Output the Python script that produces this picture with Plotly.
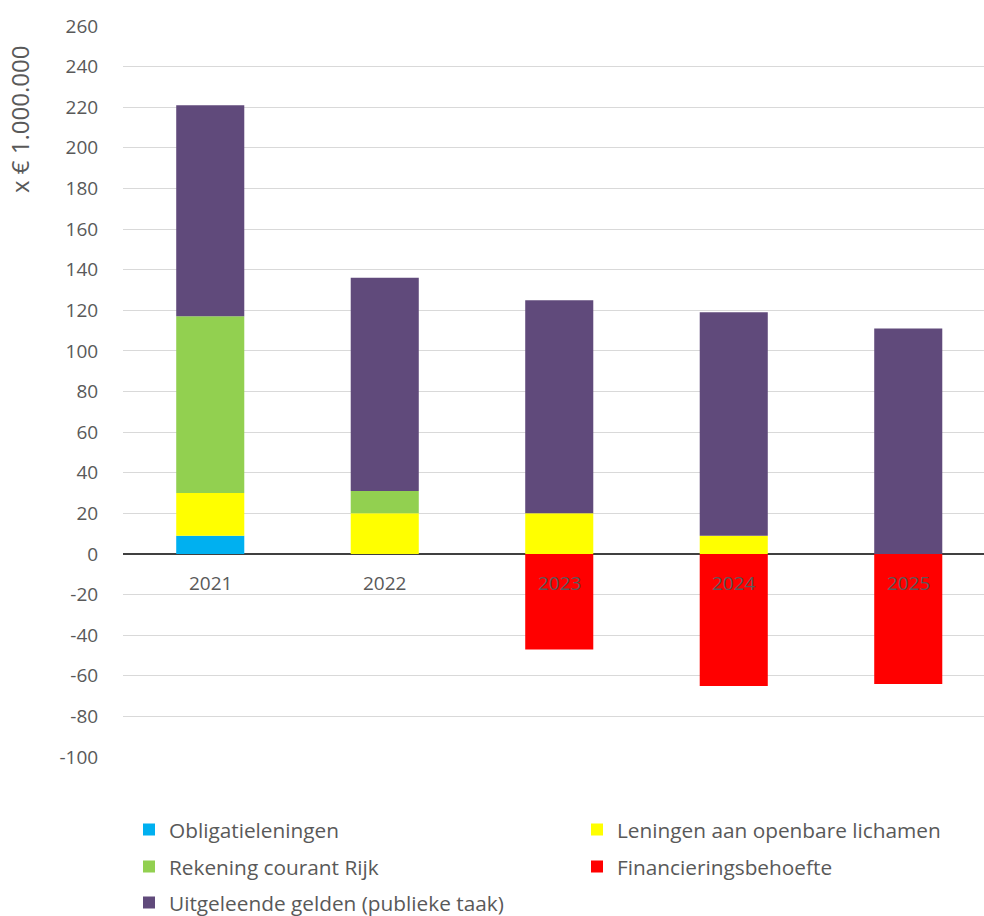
import plotly.graph_objects as go

years = ["2021", "2022", "2023", "2024", "2025"]
obligatieleningen = [9, 0, 0, 0, 0]
leningen_openbare = [21, 20, 20, 9, 0]
rekening_courant = [87, 11, 0, 0, 0]
financieringsbehoefte = [0, 0, -47, -65, -64]
uitgeleende_gelden = [104, 105, 105, 110, 111]
y_ticks = [-100, -80, -60, -40, -20, 0, 20, 40, 60, 80, 100, 120, 140, 160, 180, 200, 220, 240, 260]
y_ticktext = ["-100", "-80", "-60", "-40", "-20", "0", "20", "40", "60", "80", "100", "120",
              "140", "160", "180", "200", "220", "240", "260"]

series = [
    ("Obligatieleningen", obligatieleningen, "#00B0F0"),
    ("Leningen aan openbare lichamen", leningen_openbare, "#FFFF00"),
    ("Rekening courant Rijk", rekening_courant, "#92D050"),
    ("Financieringsbehoefte", financieringsbehoefte, "#FF0000"),
    ("Uitgeleende gelden (publieke taak)", uitgeleende_gelden, "#604A7B"),
]

W, H = 984, 916
L = 123
T = 26
B = H - 757
R = 0
pw = W - L - R
ph = H - T - B
cat_px = 174.5  # category band width in pixels

def px_x(p):  # page pixel -> paper x
    return (p - L) / pw

def px_y(p):  # page pixel -> paper y
    return (H - B - p) / ph

font_family = "Open Sans"
grey = "#595959"

# legend positions (text start x, row centre y) in page pixels
leg_pos = [(169, 830), (617, 830), (169, 867), (617, 867), (169, 903)]

fig = go.Figure()
layout_legends = {}
for i, (name, vals, col) in enumerate(series):
    lname = "legend" if i == 0 else f"legend{i+1}"
    fig.add_trace(go.Bar(
        x=years, y=vals, name=name,
        marker=dict(color=col, line=dict(width=0)),
        legend=lname, showlegend=True,
    ))
    tx, ty = leg_pos[i]
    layout_legends[lname] = dict(
        x=px_x(tx - 40), y=px_y(ty), xanchor="left", yanchor="middle",
        orientation="h", bgcolor="rgba(0,0,0,0)", borderwidth=0,
        font=dict(family=font_family, size=20.8, color=grey),
    )

annotations = []
for i, yr in enumerate(years):
    annotations.append(dict(
        x=i, y=0, xref="x", yref="y", text=yr, showarrow=False,
        yanchor="middle", yshift=-29,
        font=dict(family=font_family, size=19, color=grey),
    ))
annotations.append(dict(
    x=px_x(19), y=px_y(120), xref="paper", yref="paper",
    text="x € 1.000.000", textangle=-90, showarrow=False,
    xanchor="center", yanchor="middle",
    font=dict(family=font_family, size=24, color=grey),
))

fig.update_layout(
    width=W, height=H,
    margin=dict(l=L, r=R, t=T, b=B, pad=0, autoexpand=False),
    barmode="relative",
    bargap=0.61,
    showlegend=True,
    hovermode=False,
    plot_bgcolor="white",
    paper_bgcolor="white",
    annotations=annotations,
    font=dict(family=font_family, size=19, color=grey),
    **layout_legends,
)
fig.update_xaxes(
    type="category", range=[-0.5, -0.5 + pw / cat_px],
    showticklabels=False, showgrid=False, zeroline=False, showline=False,
    automargin=False,
)
fig.update_yaxes(
    range=[-100, 260], tickmode="array", tickvals=y_ticks, ticktext=y_ticktext,
    showgrid=True, gridcolor="#D9D9D9", gridwidth=1,
    zeroline=True, zerolinecolor="#404040", zerolinewidth=2,
    showline=False, automargin=False,
    ticks="outside", ticklen=20, tickcolor="rgba(0,0,0,0)",
    tickfont=dict(family=font_family, size=19, color=grey),
)

fig.write_html(
    "out.html",
    config={"displayModeBar": False},
    post_script="document.body.style.margin='0';document.body.style.overflow='hidden';",
)
